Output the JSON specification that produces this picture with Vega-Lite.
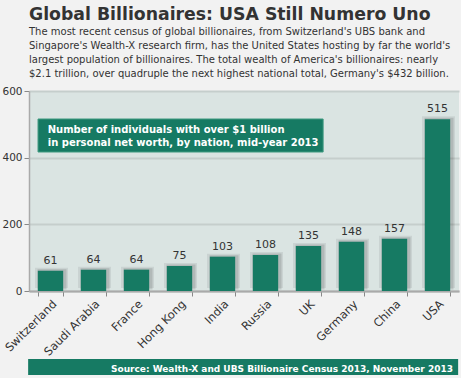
{
  "$schema": "https://vega.github.io/schema/vega-lite/v6.json",
  "width": 430,
  "height": 200,
  "autosize": {"type": "none"},
  "padding": {"left": 29, "top": 91, "right": 2, "bottom": 87},
  "background": "#f2f2f2",
  "config": {
    "font": "DejaVu Sans",
    "view": {"fill": "#dae4e2", "stroke": null}
  },
  "title": {
    "text": "Global Billionaires: USA Still Numero Uno",
    "subtitle": [
      "The most recent census of global billionaires, from Switzerland's UBS bank and",
      "Singapore's Wealth-X research firm, has the United States hosting by far the world's",
      "largest population of billionaires. The total wealth of America's billionaires: nearly",
      "$2.1 trillion, over quadruple the next highest national total, Germany's $432 billion."
    ],
    "anchor": "start",
    "frame": "group",
    "font": "DejaVu Sans",
    "fontSize": 17.3,
    "fontWeight": "bold",
    "color": "#333333",
    "subtitleFont": "DejaVu Sans",
    "subtitleFontSize": 10,
    "subtitleColor": "#333333",
    "subtitleLineHeight": 14,
    "subtitlePadding": 4,
    "offset": 7
  },
  "resolve": {"scale": {"x": "independent"}, "axis": {"x": "independent"}},
  "layer": [
    {
      "data": {
        "values": [
          {"country": "Switzerland", "count": 61},
          {"country": "Saudi Arabia", "count": 64},
          {"country": "France", "count": 64},
          {"country": "Hong Kong", "count": 75},
          {"country": "India", "count": 103},
          {"country": "Russia", "count": 108},
          {"country": "UK", "count": 135},
          {"country": "Germany", "count": 148},
          {"country": "China", "count": 157},
          {"country": "USA", "count": 515}
        ]
      },
      "encoding": {
        "x": {"field": "country", "type": "nominal", "sort": null,
              "scale": {"paddingInner": 0.41, "paddingOuter": 0.205},
              "axis": {
                "title": null, "labelAngle": -45, "labelAlign": "right", "labelBaseline": "top",
                "labelFontSize": 11.5, "labelColor": "#333333", "labelPadding": 2,
                "tickBand": "extent", "tickColor": "#888888", "tickSize": 5,
                "domainColor": "#aaaaaa", "domainWidth": 2, "grid": false
              }},
        "y": {"field": "count", "type": "quantitative",
              "scale": {"domain": [0, 600], "nice": false},
              "axis": {
                "title": null, "values": [0, 200, 400, 600], "labelFontSize": 10.5,
                "labelColor": "#333333", "tickColor": "#888888", "tickSize": 5,
                "domainColor": "#aaaaaa", "domainWidth": 1.5,
                "gridColor": "#c5cecc", "gridWidth": 2, "labelPadding": 2
              }}
      },
      "layer": [
        {"mark": {"type": "bar", "color": "#000000", "opacity": 0.07, "xOffset": 1, "yOffset": -3, "width": 33}},
        {"mark": {"type": "bar", "color": "#000000", "opacity": 0.12, "xOffset": 1.5, "yOffset": -1.5, "width": 29}},
        {"mark": {"type": "bar", "color": "#167a63"}},
        {
          "mark": {"type": "text", "dy": -7, "baseline": "alphabetic", "fontSize": 11, "color": "#333333"},
          "encoding": {"text": {"field": "count", "type": "quantitative"}}
        }
      ]
    },
    {
      "data": {"values": [{}]},
      "layer": [
        {
          "mark": {"type": "rect", "color": "#167a63", "stroke": "#3f9a80", "strokeWidth": 1},
          "encoding": {
            "x": {"datum": 0.21, "type": "quantitative", "scale": {"domain": [0, 10], "nice": false, "zero": false}, "axis": null},
            "x2": {"datum": 6.84},
            "y": {"datum": 516, "type": "quantitative"},
            "y2": {"datum": 417}
          }
        },
        {
          "mark": {"type": "text", "align": "left", "baseline": "alphabetic", "fontSize": 10, "fontWeight": "bold", "color": "#ffffff", "lineHeight": 13},
          "encoding": {
            "x": {"datum": 0.435, "type": "quantitative"},
            "y": {"datum": 475, "type": "quantitative"},
            "text": {"value": ["Number of individuals with over $1 billion", "in personal net worth, by nation, mid-year 2013"]}
          }
        },
        {
          "mark": {"type": "rect", "color": "#167a63"},
          "encoding": {
            "x": {"datum": -0.02, "type": "quantitative"},
            "x2": {"datum": 9.98},
            "y": {"datum": -204, "type": "quantitative"},
            "y2": {"datum": -252}
          }
        },
        {
          "mark": {"type": "text", "align": "right", "baseline": "alphabetic", "fontSize": 9, "fontWeight": "bold", "color": "#ffffff"},
          "encoding": {
            "x": {"datum": 9.86, "type": "quantitative"},
            "y": {"datum": -243, "type": "quantitative"},
            "text": {"value": "Source: Wealth-X and UBS Billionaire Census 2013, November 2013"}
          }
        }
      ]
    }
  ]
}
